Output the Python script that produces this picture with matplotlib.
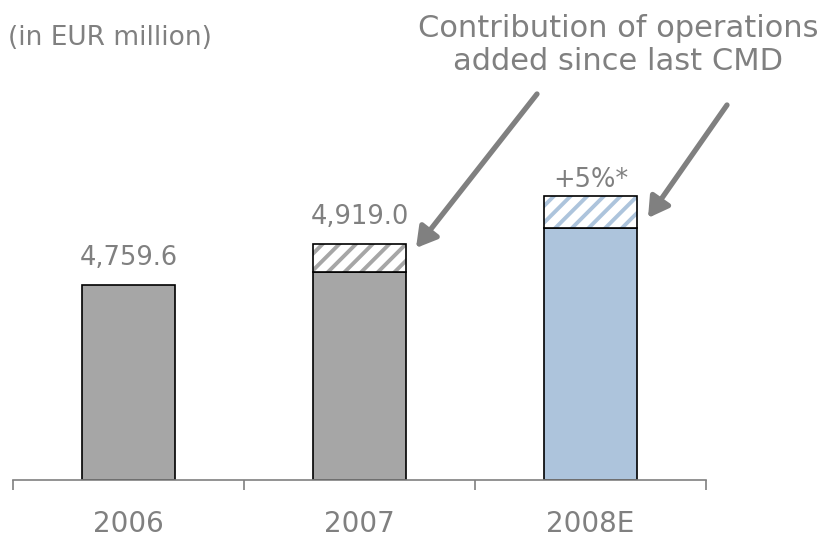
import matplotlib.pyplot as plt

years = ["2006", "2007", "2008E"]
base_values = [4759.6, 4808.0, 4980.0]
added_values = [0.0, 111.0, 123.0]
top_labels = ["4,759.6", "4,919.0", "+5%*"]
base_colors = ["#a6a6a6", "#a6a6a6", "#adc4dc"]
hatch_colors = ["#a6a6a6", "#a6a6a6", "#adc4dc"]
label_offsets = [14, 14, 3]  # px gap between bar top and label

text_color = "#808080"
y0 = 4000

plt.rcParams["hatch.linewidth"] = 2.8

fig = plt.figure(figsize=(8.34, 5.4), dpi=100)
ax = fig.add_axes([13 / 834, 60 / 540, 693 / 834, 480 / 540])

x = range(len(years))
width = 0.4
heights = [v - y0 for v in base_values]
ax.bar(x, heights, width, bottom=y0, color=base_colors, edgecolor="black", linewidth=1.2)

for i in x:
    if added_values[i] > 0:
        ax.bar(i, added_values[i], width, bottom=base_values[i], color="white",
               edgecolor=hatch_colors[i], hatch="//", linewidth=0)
        ax.bar(i, added_values[i], width, bottom=base_values[i], fill=False,
               edgecolor="black", linewidth=1.2)
    total = base_values[i] + added_values[i]
    ax.annotate(top_labels[i], xy=(i, total), xytext=(0, label_offsets[i] * 0.72),
                textcoords="offset points", ha="center", va="bottom",
                fontsize=18.5, color=text_color)

ax.set_xlim(-0.5, 2.5)
ax.set_ylim(y0, y0 + 1866)
ax.set_xticks([-0.5, 0.5, 1.5, 2.5])
ax.set_xticklabels([])
ax.set_xticks(list(x), minor=True)
ax.set_xticklabels(years, minor=True)
ax.tick_params(axis="x", which="major", length=7.5, color=text_color, width=1.2)
ax.tick_params(axis="x", which="minor", length=0, pad=21.5, labelsize=20, labelcolor=text_color)
ax.set_yticks([])
for s in ["top", "right", "left"]:
    ax.spines[s].set_visible(False)
ax.spines["bottom"].set_color(text_color)
ax.spines["bottom"].set_linewidth(1.2)

fig.text(8 / 834, 1 - 38 / 540, "(in EUR million)", ha="left", va="center",
         fontsize=19, color=text_color)
fig.text(618 / 834, 1 - 45 / 540, "Contribution of operations\nadded since last CMD",
         ha="center", va="center", fontsize=22, color=text_color, linespacing=1.2)

arrow = dict(arrowstyle="-|>,head_length=0.6,head_width=0.35", color=text_color,
             lw=3.8, mutation_scale=20, shrinkA=0, shrinkB=0)
ax.annotate("", xy=(416 / 834, 1 - 248 / 540), xytext=(537 / 834, 1 - 94 / 540),
            xycoords="figure fraction", textcoords="figure fraction", arrowprops=arrow)
ax.annotate("", xy=(648 / 834, 1 - 218 / 540), xytext=(727 / 834, 1 - 105 / 540),
            xycoords="figure fraction", textcoords="figure fraction", arrowprops=arrow)

fig.savefig("out.png", dpi=100)
